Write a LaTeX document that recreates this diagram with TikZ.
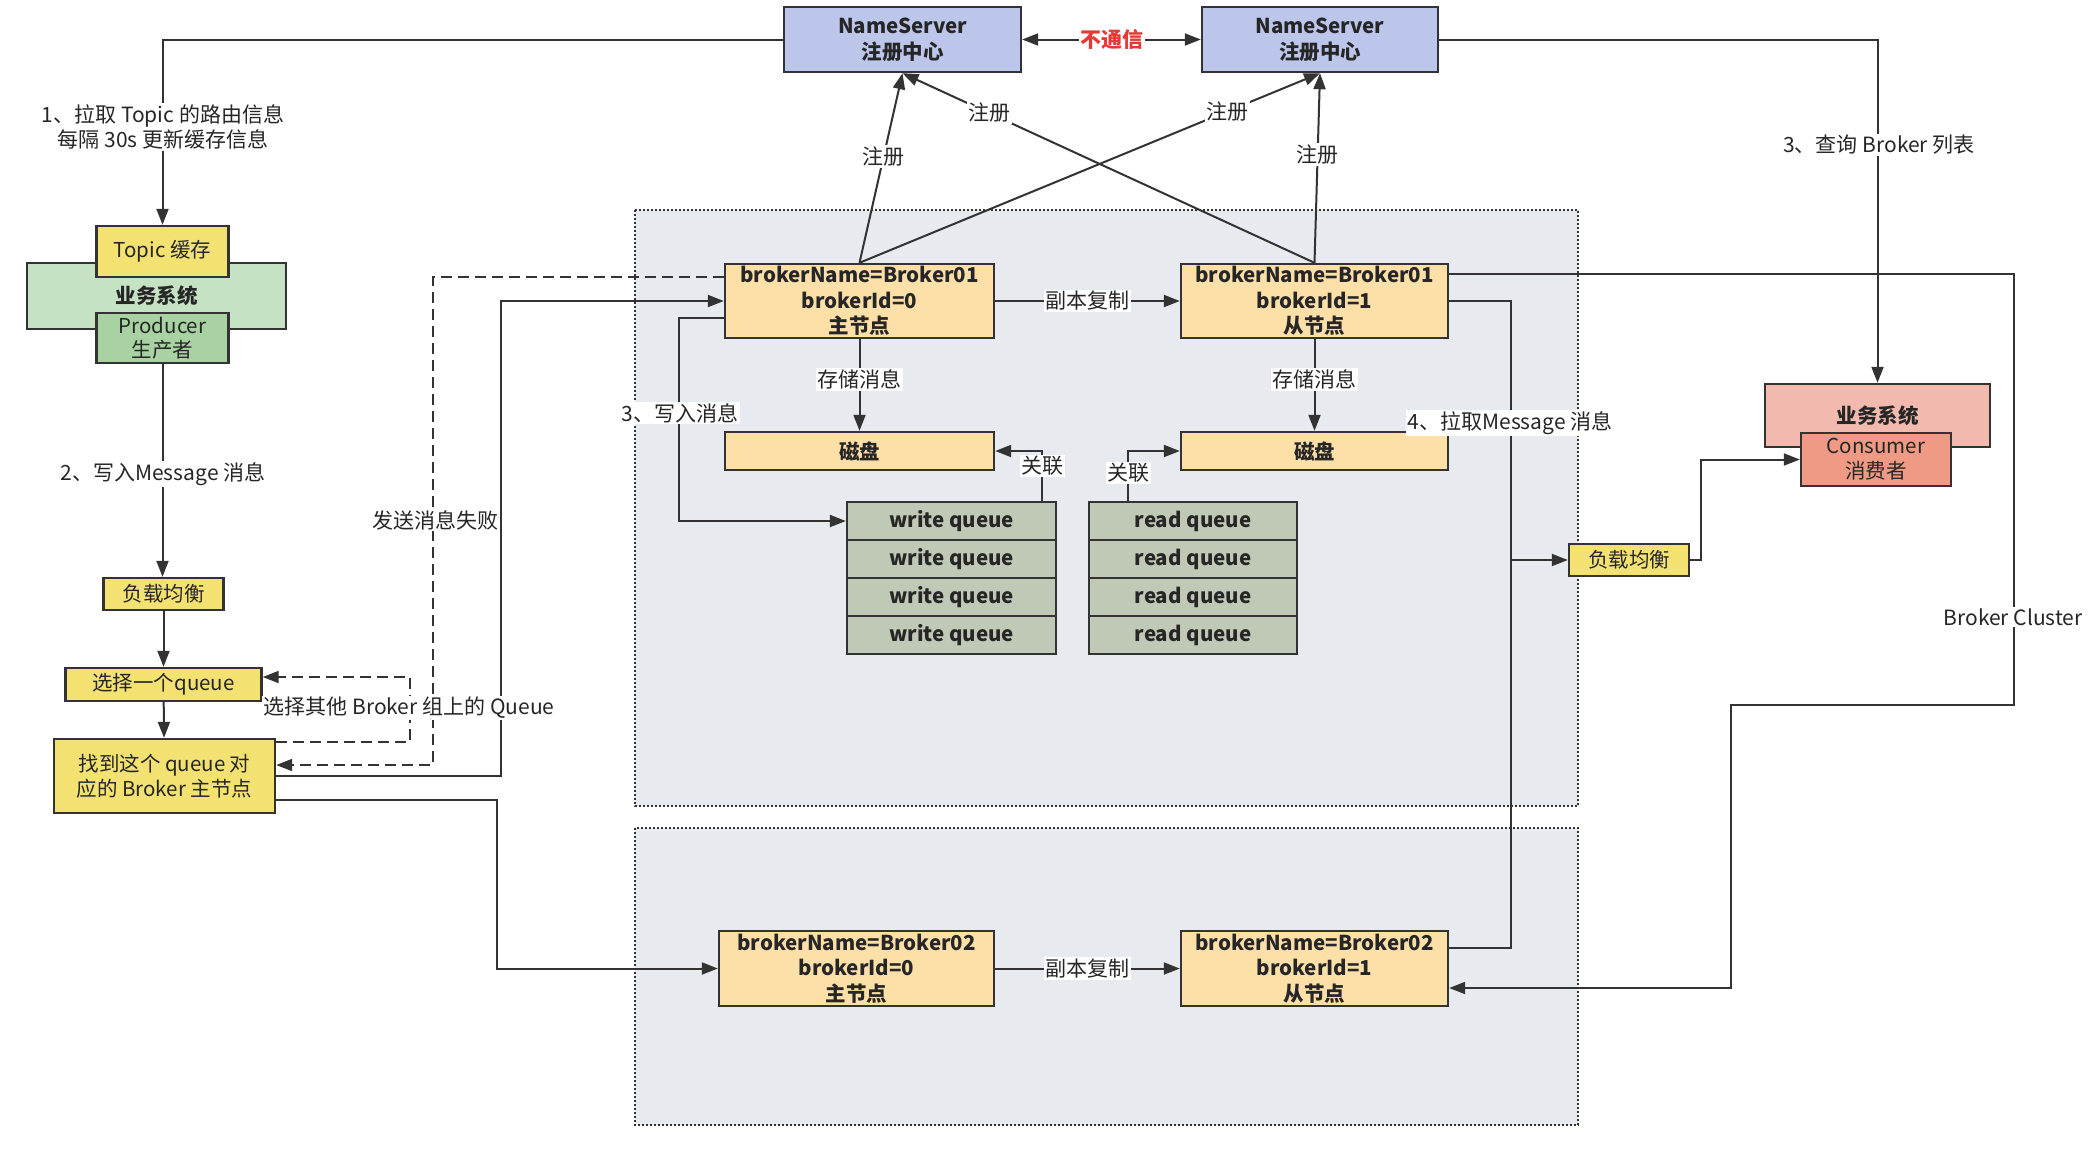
\documentclass[tikz,border=0pt]{standalone}
\usepackage{fontspec}
\setmainfont{Noto Sans CJK SC}
\usetikzlibrary{arrows.meta}
\definecolor{lc}{HTML}{333333}
\definecolor{tc}{HTML}{262626}
\definecolor{nsfill}{HTML}{BCC5EA}
\definecolor{brfill}{HTML}{FDDFA8}
\definecolor{ylfill}{HTML}{F3E272}
\definecolor{gnfill}{HTML}{C6E2C4}
\definecolor{gn2fill}{HTML}{A9D2A3}
\definecolor{rdfill}{HTML}{F2BAAE}
\definecolor{rd2fill}{HTML}{EE9A84}
\definecolor{qfill}{HTML}{BFC9B5}
\definecolor{regfill}{HTML}{E7EAEE}
\definecolor{redtxt}{HTML}{E53935}
\newcommand\myfs[2]{\fontsize{#1}{#2}\selectfont}
\begin{document}
\begin{tikzpicture}[x=1pt,y=-1pt,
  box/.style={draw=lc, line width=2.4pt, inner sep=0pt, align=center, text=tc, font=\myfs{20.5}{25}},
  bbox/.style={box, font=\myfs{20.5}{25.5}\bfseries},
  region/.style={draw=lc, line width=1.8pt, dash pattern=on 2pt off 2pt, fill=regfill},
  ln/.style={draw=lc, line width=2pt},
  arr/.style={ln, -{Triangle[length=16pt,width=12pt]}},
  dasharr/.style={arr, dash pattern=on 11pt off 6pt},
  lbl/.style={fill=white, inner sep=1.5pt, text=tc, font=\myfs{21}{24.5}}]
\useasboundingbox (0,0) rectangle (2095,1157);
\fill[white] (0,0) rectangle (2095,1157);

% regions
\draw[region] (635,210) rectangle (1578,806);
\draw[region] (635,828) rectangle (1578,1125);

% name servers
\node[bbox, fill=nsfill, minimum width=237pt, minimum height=65pt, font=\myfs{20.5}{26}\bfseries] (nsL) at (902.5,39.5) {NameServer\\注册中心};
\node[bbox, fill=nsfill, minimum width=236pt, minimum height=65pt, font=\myfs{20.5}{26}\bfseries] (nsR) at (1320,39.5) {NameServer\\注册中心};

% producer side
\node[bbox, fill=gnfill, minimum width=259pt, minimum height=66pt] (biz1) at (156.5,296) {业务系统};
\node[box, fill=ylfill, minimum width=132pt, minimum height=51pt] (topic) at (162.5,251.5) {Topic 缓存};
\node[box, fill=gn2fill, minimum width=132pt, minimum height=50pt, font=\myfs{20.5}{24}] (producer) at (162.5,338) {Producer\\生产者};
\node[box, fill=ylfill, minimum width=120pt, minimum height=32pt] (lb1) at (163.5,594) {负载均衡};
\node[box, fill=ylfill, minimum width=196pt, minimum height=33pt] (sel) at (163.5,684.5) {选择一个queue};
\node[box, fill=ylfill, minimum width=221pt, minimum height=74pt] (find) at (164.5,776) {找到这个 queue 对\\应的 Broker 主节点};

% brokers
\node[bbox, fill=brfill, minimum width=269pt, minimum height=74pt] (m1) at (859.5,301) {brokerName=Broker01\\brokerId=0\\主节点};
\node[bbox, fill=brfill, minimum width=267pt, minimum height=74pt] (s1) at (1314.5,301) {brokerName=Broker01\\brokerId=1\\从节点};
\node[bbox, fill=brfill, minimum width=269pt, minimum height=38pt] (d1) at (859.5,451) {磁盘};
\node[bbox, fill=brfill, minimum width=267pt, minimum height=38pt] (d2) at (1314.5,451) {磁盘};
\foreach \i/\y in {1/521,2/559,3/597,4/635}{
  \node[bbox, fill=qfill, minimum width=209pt, minimum height=38pt] (wq\i) at (951.5,\y) {write queue};
  \node[bbox, fill=qfill, minimum width=208pt, minimum height=38pt] (rq\i) at (1193,\y) {read queue};
}
\node[bbox, fill=brfill, minimum width=275pt, minimum height=75pt] (m2) at (856.5,968.5) {brokerName=Broker02\\brokerId=0\\主节点};
\node[bbox, fill=brfill, minimum width=267pt, minimum height=75pt] (s2) at (1314.5,968.5) {brokerName=Broker02\\brokerId=1\\从节点};

% consumer side
\node[box, fill=ylfill, minimum width=120pt, minimum height=32pt] (lb2) at (1629,560) {负载均衡};
\node[bbox, fill=rdfill, minimum width=225pt, minimum height=63pt] (biz2) at (1877.5,415.5) {\raisebox{2pt}{业务系统}};
\node[box, fill=rd2fill, minimum width=150pt, minimum height=53pt, font=\myfs{20.5}{25}] (cons) at (1876,459.5) {Consumer\\消费者};

% name server links
\draw[ln, {Triangle[length=16pt,width=12pt]}-{Triangle[length=16pt,width=12pt]}] (nsL) -- (nsR)
  node[fill=white, inner sep=1.5pt, midway, text=redtxt, font=\myfs{21}{24}\bfseries] {不通信};
\draw[arr] (nsL.west) -| (topic.north);
\draw[arr] (nsR.east) -| (biz2.north);

% registrations
\draw[arr] (m1.north) -- (nsL.south) node[lbl, pos=0.56] {注册};
\draw[arr] (m1.north) -- (nsR.south) node[lbl, pos=0.80] {注册};
\draw[arr] (s1.north) -- (nsL.south) node[lbl, pos=0.79] {注册};
\draw[arr] (s1.north) -- (nsR.south) node[lbl, pos=0.57] {注册};

% broker internals
\draw[arr] (m1) -- (s1) node[lbl, midway] {副本复制};
\draw[arr] (m2) -- (s2) node[lbl, midway] {副本复制};
\draw[arr] (m1) -- (d1) node[lbl, pos=0.44] {存储消息};
\draw[arr] (s1) -- (d2) node[lbl, pos=0.44] {存储消息};
\draw[arr] ([xshift=90.5pt]wq1.north) |- (d1.east);
\draw[arr] ([xshift=-65pt]rq1.north) |- (d2.west);
\draw[arr] ([yshift=-17pt]m1.west) -- ++(-45,0) |- (wq1.west);

% pull path
\draw[ln] (s1.east) -- ++(62,0) coordinate (pv) |- ([yshift=20.5pt]s2.east);
\coordinate (br) at (pv |- lb2.west);
\draw[arr] (br) -- (lb2.west);
\draw[arr] (lb2.east) -- ++(11,0) |- (cons.west);

% broker cluster link
\draw[arr] ([yshift=27pt]s1.east) -- ++(565,0) -- ++(0,431) -- ++(-283,0) |- ([yshift=-19.5pt]s2.east);

% producer path
\draw[arr] (producer.south) -- (producer.south |- lb1.north);
\draw[arr] (lb1) -- (sel);
\draw[arr] (sel) -- (find);
\draw[dasharr] ([yshift=34pt]find.east) -- ++(134,0) |- ([yshift=7.5pt]sel.east);
\draw[dasharr] ([yshift=24pt]m1.west) -- ++(-291,0) |- ([yshift=11pt]find.east);
\draw[arr] (find.east) -- ++(225,0) |- (m1.west);
\draw[arr] ([yshift=-24pt]find.east) -- ++(221,0) |- (m2.west);

% labels
\node[lbl, align=center] at (163,127) {1、拉取 Topic 的路由信息\\每隔 30s 更新缓存信息};
\node[lbl] at (1879,145) {3、查询 Broker 列表};
\node[lbl] at (163,474) {2、写入Message 消息};
\node[lbl] at (435,520) {发送消息失败};
\node[lbl] at (409,708) {选择其他 Broker 组上的 Queue};
\node[lbl] at (680,413) {3、写入消息};
\node[lbl] at (1042,466) {关联};
\node[lbl] at (1128,473) {关联};
\node[lbl] at (1510,423) {4、拉取Message 消息};
\node[lbl] at (2013,617) {Broker Cluster};
\end{tikzpicture}
\end{document}
